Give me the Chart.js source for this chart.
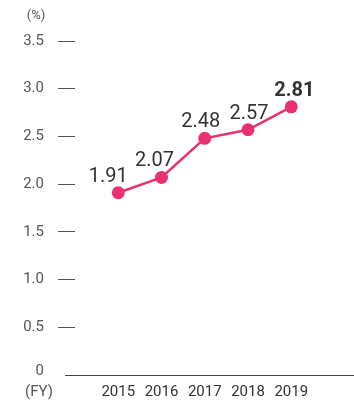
<!DOCTYPE html>
<html>
<head>
<meta charset="utf-8">
<script src="https://cdn.jsdelivr.net/npm/chart.js@4/dist/chart.umd.min.js"></script>
<style>
  html, body { margin: 0; padding: 0; background: #fff; }
  #wrap { width: 354px; height: 405px; position: relative; }
</style>
</head>
<body>
<div id="wrap"><canvas id="ratio"></canvas></div>
<script>
// fiscal years and the ratio (%) for each
const years = [2015, 2016, 2017, 2018, 2019];
const ratio = [1.91, 2.07, 2.48, 2.57, 2.81];
const yTicks = [0, 0.5, 1.0, 1.5, 2.0, 2.5, 3.0, 3.5];

const pink = "#e8316d";
Chart.defaults.font.family = "Roboto";

// value labels above the points, last year in bold
const valueLabels = {
  id: "valueLabels",
  afterDatasetsDraw(chart, args, opts) {
    const ctx = chart.ctx;
    const pts = chart.getDatasetMeta(0).data;
    ctx.save();
    ctx.fillStyle = "#333";
    ctx.textAlign = "center";
    ctx.textBaseline = "alphabetic";
    pts.forEach((p, i) => {
      const last = i === pts.length - 1;
      ctx.font = (last ? "bold " : "") + "20px Roboto";
      ctx.fillText(ratio[i].toFixed(2), p.x + opts.nudge[i], p.y - 11);
    });
    ctx.restore();
  }
};

// baseline at 0, its "0" label sitting a little above, and the unit captions
const frame = {
  id: "frame",
  afterDraw(chart) {
    const ctx = chart.ctx;
    const y0 = Math.round(chart.scales.y.getPixelForValue(0)) + 0.5;
    ctx.save();
    ctx.strokeStyle = "#444";
    ctx.lineWidth = 1.2;
    ctx.beginPath();
    ctx.moveTo(chart.chartArea.left - 10, y0);
    ctx.lineTo(chart.width, y0);
    ctx.stroke();

    ctx.fillStyle = "#555";
    ctx.textAlign = "right";
    ctx.textBaseline = "middle";
    ctx.font = "15px Roboto";
    ctx.fillText("0", chart.chartArea.left - 31, y0 - 4);

    ctx.textAlign = "center";
    ctx.font = "13px Roboto";
    ctx.fillText("(%)", 36, 16);
    ctx.font = "15px Roboto";
    ctx.fillText("(FY)", 39, 392);
    ctx.restore();
  }
};

new Chart("ratio", {
  type: "line",
  data: {
    datasets: [{
      data: years.map((yr, i) => ({ x: yr, y: ratio[i] })),
      borderColor: pink,
      backgroundColor: pink,
      borderWidth: 2.5,
      pointRadius: 6.5,
      pointHoverRadius: 6.5,
      pointBorderWidth: 0,
      tension: 0
    }]
  },
  plugins: [valueLabels, frame],
  options: {
    responsive: true,
    maintainAspectRatio: false,
    animation: false,
    events: [],
    layout: { padding: { top: 41, bottom: 4, left: 0, right: 0 } },
    plugins: {
      legend: { display: false },
      tooltip: { enabled: false },
      valueLabels: { nudge: [-10, -7, -4, 1, 3] }
    },
    scales: {
      x: {
        type: "linear",
        min: 2014,
        max: 2020.3,
        afterBuildTicks: s => { s.ticks = years.map(v => ({ value: v })); },
        afterFit: s => { s.height = 26; },
        grid: { display: false, drawTicks: false },
        border: { display: false },
        ticks: {
          color: "#333",
          font: { size: 15 },
          padding: 8,
          maxRotation: 0,
          callback: v => String(v)
        }
      },
      y: {
        min: 0,
        max: 3.5,
        afterBuildTicks: s => { s.ticks = yTicks.map(v => ({ value: v })); },
        afterFit: s => { s.width = 75; s.paddingTop = 0; s.paddingBottom = 0; },
        border: { display: false },
        grid: {
          drawOnChartArea: false,
          tickLength: 17,
          tickWidth: 1,
          color: c => (c.tick && c.tick.value === 0 ? "rgba(0,0,0,0)" : "#555")
        },
        ticks: {
          color: "#555",
          font: { size: 15 },
          padding: 14,
          callback: v => (v === 0 ? "" : v.toFixed(1))
        }
      }
    }
  }
});
</script>
</body>
</html>
